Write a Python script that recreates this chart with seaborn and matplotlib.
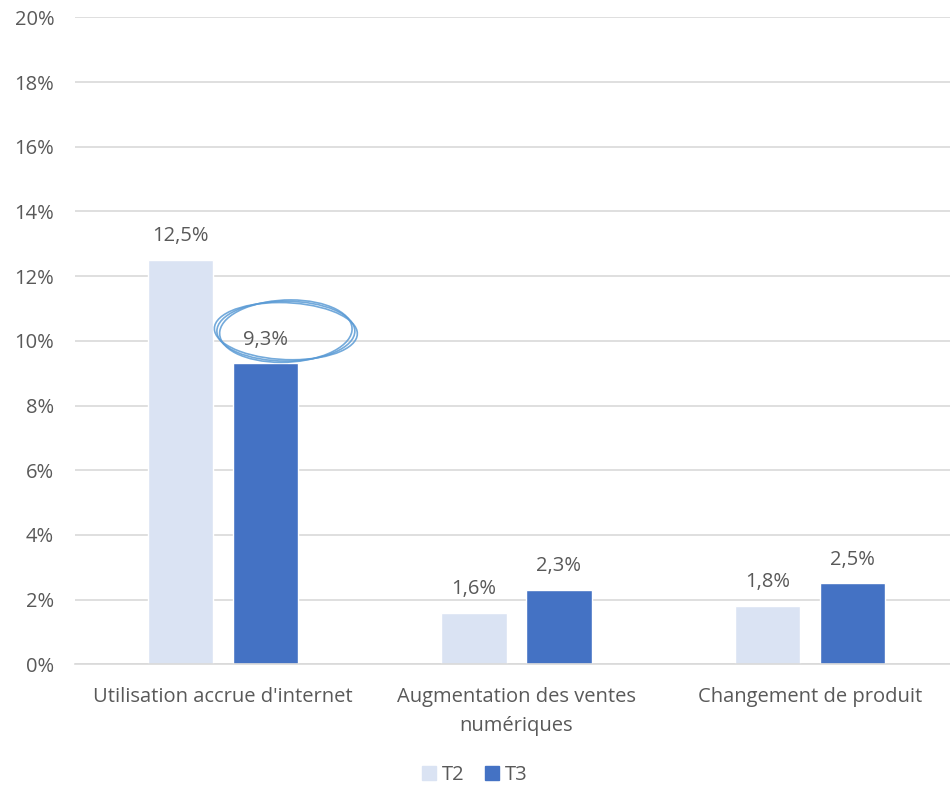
import matplotlib.pyplot as plt
import numpy as np
import pandas as pd
import seaborn as sns
from matplotlib.patches import Ellipse

categories = ["Utilisation accrue d'internet", 'Augmentation des ventes\nnumériques', 'Changement de produit']
periods = ['T2', 'T3']
t2_values = [12.5, 1.6, 1.8]
t3_values = [9.3, 2.3, 2.5]
yticks = [0, 2, 4, 6, 8, 10, 12, 14, 16, 18, 20]

colors = {'T2': '#DAE3F3', 'T3': '#4472C4'}
text_color = '#595959'
fs = 14.5

sns.set_style('white')
plt.rcParams['font.family'] = ['Open Sans', 'DejaVu Sans']

data = pd.DataFrame({
    'Categorie': categories * 2,
    'Periode': ['T2'] * 3 + ['T3'] * 3,
    'Valeur': t2_values + t3_values,
})

fig = plt.figure(figsize=(9.5, 7.89), dpi=100)
ax = fig.add_axes([0.079, 0.158, 0.921, 0.820])

sns.barplot(data=data, x='Categorie', y='Valeur', hue='Periode', hue_order=periods,
            palette=colors, saturation=1, width=0.577, gap=0.225, ax=ax,
            legend=False, errorbar=None)

ax.set_ylim(0, 20)
ax.set_xlim(-0.504, 2.477)
ax.set_yticks(yticks)
ax.set_yticklabels([f'{t}%' for t in yticks])
ax.yaxis.grid(True, color='#D9D9D9', linewidth=1.2)
ax.set_axisbelow(True)
for side in ['top', 'right', 'left']:
    ax.spines[side].set_visible(False)
ax.spines['bottom'].set_color('#D9D9D9')
ax.spines['bottom'].set_linewidth(1.2)
ax.tick_params(axis='both', length=0, labelsize=fs, labelcolor=text_color)
ax.tick_params(axis='y', pad=15)
ax.tick_params(axis='x', pad=16)
for lbl in ax.get_xticklabels():
    lbl.set_linespacing(1.6)
ax.set_xlabel('')
ax.set_ylabel('')

# value labels
for container, vals in zip(ax.containers, [t2_values, t3_values]):
    for bar, v in zip(container, vals):
        ax.annotate(f'{v:.1f}'.replace('.', ',') + '%',
                    (bar.get_x() + bar.get_width() / 2, bar.get_height()),
                    xytext=(0, 10), textcoords='offset points',
                    ha='center', va='bottom', fontsize=fs, color=text_color)

# hand-drawn circle around the 9,3% label
bar = ax.containers[1][0]
cx = bar.get_x() + bar.get_width() / 2 + 0.07
cy = t3_values[0] + 1.0
for dw, dh, ang in [(0.0, 0.0, 0), (0.015, -0.08, 1.5), (-0.02, 0.08, -1.0)]:
    ax.add_patch(Ellipse((cx, cy), 0.47 + dw, 1.85 + dh, angle=ang, fill=False,
                         edgecolor='#5B9BD5', linewidth=1.2, alpha=0.85, zorder=5))

handles = [plt.Rectangle((0, 0), 1, 1, color=colors[p]) for p in periods]
fig.legend(handles, periods, loc='lower center', bbox_to_anchor=(0.5, -0.018), ncol=2,
           frameon=False, fontsize=fs, labelcolor=text_color, handlelength=0.7,
           handleheight=0.7, handletextpad=0.3, columnspacing=1.0)

fig.savefig('out.png', dpi=100)
